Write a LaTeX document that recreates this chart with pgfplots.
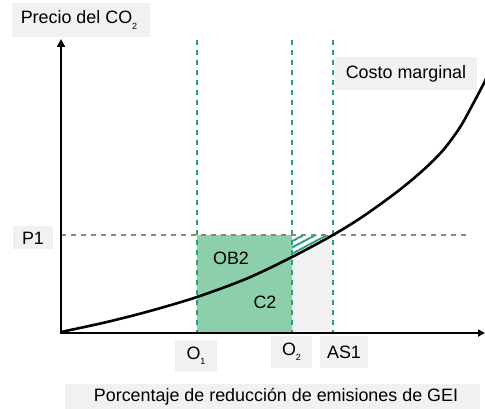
\documentclass[border=0pt]{standalone}
\usepackage{pgfplots}
\pgfplotsset{compat=1.18}
\usepackage{fontspec}
\setmainfont{Liberation Sans}
\usetikzlibrary{arrows.meta,patterns.meta}
\definecolor{boxgray}{RGB}{241,241,241}
\definecolor{greenfill}{RGB}{141,207,170}
\definecolor{tealdash}{RGB}{42,160,128}
\definecolor{pdash}{RGB}{140,136,118}
\definecolor{greyfill}{RGB}{241,241,241}
\newcommand\sub[1]{\raisebox{-0.55ex}{\fontsize{9}{9}\selectfont #1}}
\begin{document}
\begin{tikzpicture}
\begin{axis}[
  scale only axis, width=485pt, height=409pt,
  xmin=0, xmax=485, ymin=0, ymax=409, y dir=reverse,
  hide axis, clip=false,
  font=\fontsize{17.9}{21}\selectfont,
]
% label boxes
\fill[boxgray] (axis cs:12,3) rectangle (axis cs:150,37);
\fill[boxgray] (axis cs:335,57) rectangle (axis cs:477,90);
\fill[boxgray] (axis cs:13,226) rectangle (axis cs:53,249);
\fill[boxgray] (axis cs:175,340) rectangle (axis cs:217,372);
\fill[boxgray] (axis cs:271,336) rectangle (axis cs:312,368);
\fill[boxgray] (axis cs:320,336) rectangle (axis cs:368,368);
\fill[boxgray] (axis cs:65,384) rectangle (axis cs:480,415);
% areas
\addplot[fill=greyfill, draw=none] coordinates {(292,235) (333,235) (333,333) (292,333)} -- cycle;
\addplot[fill=greenfill, draw=none] coordinates {(197,235) (292,235) (292,333) (197,333)} -- cycle;
\addplot[fill=white, draw=none] coordinates {(292,235) (333,235) (312,246.5) (292,257)} -- cycle;
\addplot[pattern={Lines[angle=28,distance=5.5pt,line width=2pt]}, pattern color=tealdash, draw=none] coordinates {(292,235) (333,235) (312,246.5) (292,257)} -- cycle;
% dashed guides
\addplot[tealdash, line width=1.3pt, dash pattern=on 5pt off 5pt] coordinates {(197,40) (197,333)};
\addplot[tealdash, line width=1.3pt, dash pattern=on 5pt off 5pt] coordinates {(292,40) (292,333)};
\addplot[tealdash, line width=1.3pt, dash pattern=on 5pt off 5pt] coordinates {(333,40) (333,333)};
\addplot[pdash, line width=1.3pt, dash pattern=on 5pt off 5pt] coordinates {(61,235) (470,235)};
% marginal cost curve
\addplot[black, line width=2.6pt, smooth] coordinates {
 (61,332) (107,322) (150,311) (197,297) (247,278.5) (292,257) (333,235)
 (363,216.4) (397,191.9) (423,170.3) (443,150.3) (460,127.3) (473,103.9) (483,85) (488,74.5)};
% axes
\draw[black, line width=2.6pt, -{Triangle[length=8pt,width=8pt]}] (axis cs:61,334) -- (axis cs:61,39);
\draw[black, line width=2.6pt, -{Triangle[length=7pt,width=7pt]}] (axis cs:60,333) -- (axis cs:485,333);
% texts
\node at (axis cs:79,20) {Precio del CO\sub{2}};
\node at (axis cs:406,74) {Costo marginal};
\node at (axis cs:33,238) {P1};
\node at (axis cs:231,258) {OB2};
\node at (axis cs:265,302) {C2};
\node at (axis cs:196,356) {O\sub{1}};
\node at (axis cs:291.5,352) {O\sub{2}};
\node at (axis cs:344,352) {AS1};
\node at (axis cs:276,397) {Porcentaje de reducción de emisiones de GEI};
\end{axis}
\pgfresetboundingbox
\path[use as bounding box] (current axis.south west) rectangle (current axis.north east);
\end{tikzpicture}
\end{document}
